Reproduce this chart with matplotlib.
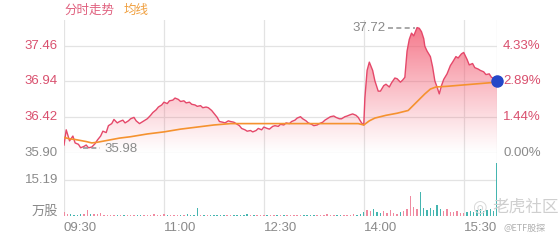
import numpy as np
import matplotlib.pyplot as plt

plt.rcParams['font.family'] = ['Liberation Sans', 'Noto Sans CJK SC', 'DejaVu Sans']

# minutes after 09:30 and last price
price_t = [0, 2, 5, 8, 10, 13, 15, 18, 20, 22, 25, 28, 30, 33, 35, 38, 40, 43, 45, 48,
           50, 53, 55, 58, 60, 63, 65, 68, 70, 73, 75, 78, 80, 83, 85, 88, 90, 93, 95, 98,
           100, 103, 105, 108, 110, 113, 115, 118, 120, 123, 125, 128, 130, 133, 135, 138, 140, 143, 145, 148,
           150, 153, 155, 158, 160, 163, 165, 168, 170, 173, 175, 178, 180, 183, 185, 188, 190, 193, 195, 198,
           200, 203, 205, 208, 210, 213, 215, 218, 220, 223, 225, 228, 230, 233, 235, 238, 240, 243, 245, 248,
           250, 253, 255, 258, 260, 263, 265, 268, 270, 271, 273, 275, 278, 280, 283, 285, 288, 290, 293, 295,
           298, 300, 303, 305, 307, 309, 311, 313, 315, 318, 320, 322, 324, 325, 327, 330, 332, 334, 336, 338,
           340, 342, 345, 348, 350, 353, 355, 358, 360, 363, 365, 368, 370, 373, 375, 378, 380, 383, 385, 388, 390]
price = [36.02, 36.24, 36.08, 36.15, 36.05, 36.03, 35.98, 36.00, 36.02, 35.98, 35.99, 36.04, 36.09, 36.15, 36.22, 36.20, 36.30, 36.33, 36.39, 36.34,
         36.36, 36.38, 36.34, 36.37, 36.40, 36.42, 36.37, 36.33, 36.35, 36.38, 36.40, 36.45, 36.49, 36.53, 36.57, 36.60, 36.64, 36.62, 36.66, 36.67,
         36.70, 36.68, 36.65, 36.66, 36.63, 36.64, 36.61, 36.60, 36.58, 36.59, 36.56, 36.57, 36.56, 36.52, 36.48, 36.42, 36.36, 36.35, 36.34, 36.37,
         36.36, 36.35, 36.33, 36.30, 36.26, 36.24, 36.22, 36.23, 36.21, 36.23, 36.26, 36.24, 36.28, 36.26, 36.25, 36.29, 36.30, 36.29, 36.32, 36.31,
         36.34, 36.33, 36.36, 36.38, 36.41, 36.43, 36.40, 36.37, 36.34, 36.32, 36.30, 36.31, 36.33, 36.35, 36.38, 36.41, 36.43, 36.44, 36.42, 36.40,
         36.40, 36.43, 36.44, 36.46, 36.47, 36.45, 36.42, 36.34, 36.31, 36.70, 37.10, 37.22, 37.10, 36.95, 36.80, 36.80, 36.88, 36.90, 36.86, 36.92,
         36.99, 36.98, 36.93, 36.96, 37.00, 37.38, 37.55, 37.64, 37.60, 37.72, 37.71, 37.66, 37.56, 37.45, 37.38, 37.30, 37.15, 36.95, 36.86, 36.76,
         36.88, 36.97, 37.05, 37.17, 37.22, 37.30, 37.28, 37.34, 37.36, 37.26, 37.18, 37.20, 37.14, 37.12, 37.10, 37.08, 37.04, 37.05, 37.00, 36.98, 36.95]

avg_t = [0, 5, 10, 20, 25, 30, 40, 50, 60, 75, 90, 105, 120, 135, 150, 180, 210, 240, 265,
         270, 275, 280, 290, 300, 310, 315, 320, 325, 330, 335, 345, 360, 375, 390]
avg = [36.13, 36.11, 36.10, 36.07, 36.05, 36.06, 36.09, 36.12, 36.14, 36.18, 36.21, 36.25, 36.28, 36.31, 36.33, 36.33, 36.33, 36.33, 36.33,
       36.31, 36.37, 36.41, 36.45, 36.48, 36.52, 36.60, 36.68, 36.76, 36.83, 36.86, 36.87, 36.89, 36.91, 36.93]

# volume (万股), one bar every 3 minutes
vol = [1.8, 0.9, 0.7, 0.5, 0.6, 0.8, 1.0, 2.4, 0.9, 0.7, 0.8, 1.1, 0.6, 0.5, 0.4, 0.5, 0.3, 0.4, 0.3, 0.5,
       0.4, 0.3, 0.5, 0.4, 0.6, 0.4, 0.5, 0.7, 0.5, 0.6, 0.8, 0.5, 0.4, 0.6, 0.5, 0.4, 0.5, 0.7, 0.4, 0.6,
       3.4, 0.5, 0.4, 0.6, 0.5, 0.4, 0.3, 0.5, 0.6, 0.4, 0.5, 0.3, 0.4, 0.6, 0.5, 0.7, 0.4, 0.5, 0.6, 0.4,
       0.5, 0.3, 0.4, 0.5, 0.4, 0.3, 0.5, 0.4, 0.6, 0.5, 0.4, 0.5, 0.3, 0.4, 0.5, 0.4, 0.6, 0.5, 0.4, 0.7,
       0.5, 0.4, 0.6, 0.5, 0.4, 0.6, 0.5, 0.7, 0.6, 0.8, 1.8, 2.6, 1.9, 2.8, 1.6, 1.2, 2.0, 1.4, 2.5, 1.3,
       1.0, 1.6, 2.2, 3.0, 8.4, 3.6, 2.8, 10.1, 3.2, 2.5, 3.4, 2.7, 4.6, 2.9, 2.2, 3.0, 1.8, 1.5, 2.0, 1.4,
       1.2, 1.6, 2.0, 1.5, 2.4, 2.8, 1.9, 2.6, 3.0, 2.2, 22.4]
vol_t = np.arange(0, 391, 3)

prev_close = 35.90
price_ticks = [35.90, 36.42, 36.94, 37.46]
pct_ticks = ['0.00%', '1.44%', '2.89%', '4.33%']
time_ticks = [0, 90, 180, 270, 360]
time_labels = ['09:30', '11:00', '12:30', '14:00', '15:30']
vol_tick = 15.19

RED = '#e5486a'
LABEL_RED = '#d9506e'
GRAY = '#8a8a8a'
GRID = '#e3e3e3'
CJK = ['Noto Sans CJK SC', 'DejaVu Sans']

fig = plt.figure(figsize=(5.6, 2.4), dpi=100)
L, R = 64, 497


def box(top, bottom):
    return [L / 560, 1 - bottom / 240, (R - L) / 560, (bottom - top) / 240]


ax_bg = fig.add_axes(box(20, 216))
ax = fig.add_axes(box(20, 153.3))
axv = fig.add_axes(box(162, 216))
for a in (ax_bg, ax, axv):
    a.set_xlim(0, 390)
    a.axis('off')
    a.patch.set_alpha(0)

for m in [0, 90, 180, 270, 360, 390]:
    ax_bg.axvline(m, color=GRID, lw=0.9, zorder=0)

ytop = 37.83
ax.set_ylim(prev_close, ytop)
for p in price_ticks:
    ax.axhline(p, color=GRID, lw=0.9, zorder=0)

# gradient fill under the price line
rgba = np.zeros((256, 1, 4))
rgba[..., 0], rgba[..., 1], rgba[..., 2] = 0.95, 0.33, 0.42
rgba[:, 0, 3] = np.linspace(0.85, 0.0, 256) ** 1.1
im = ax.imshow(rgba, extent=[0, 390, prev_close, ytop], aspect='auto', origin='upper', zorder=1)
poly = ax.fill_between(price_t, price, prev_close, color='none', lw=0)
im.set_clip_path(poly.get_paths()[0], ax.transData)

ax.plot(price_t, price, color=RED, lw=1.0, zorder=3)
ax.plot(avg_t, avg, color='#f5922f', lw=1.2, zorder=4)
ax.plot(price_t[-1], price[-1], 'o', color='#2447c8', ms=8, zorder=5, clip_on=False)

# max / min markers
imax = int(np.argmax(price))
imin = int(np.argmin(price))
ax.plot([price_t[imax] - 26, price_t[imax] - 2], [price[imax]] * 2, ls=(0, (3, 2)), color='#999999', lw=1.2, zorder=4)
ax.text(price_t[imax] - 28, price[imax], f'{price[imax]:.2f}', ha='right', va='center', color=GRAY, fontsize=9.5)
ax.plot([price_t[imin] + 2, price_t[imin] + 17], [price[imin]] * 2, ls=(0, (3, 2)), color='#999999', lw=1.2, zorder=4)
ax.text(price_t[imin] + 21, price[imin] - 0.02, f'{price[imin]:.2f}', ha='left', va='center', color=GRAY, fontsize=9.5)

# axis labels
for p, pct in zip(price_ticks, pct_ticks):
    c = GRAY if p == prev_close else LABEL_RED
    ax.annotate(f'{p:.2f}', xy=(0, p), xycoords=('axes fraction', 'data'), xytext=(-6, 0),
                textcoords='offset pixels', ha='right', va='center', color=c, fontsize=9.5)
    ax.annotate(pct, xy=(1, p), xycoords=('axes fraction', 'data'), xytext=(6, 0),
                textcoords='offset pixels', ha='left', va='center', color=c, fontsize=9.5)

# volume
vmax = vol_tick * 1.5
axv.set_ylim(0, vmax)
axv.axhline(vol_tick, color=GRID, lw=0.9, zorder=0)
interp_p = np.interp(vol_t, price_t, price)
colors = ['#f08aa0' if i == 0 or interp_p[i] >= interp_p[i - 1] else '#45b5b0' for i in range(len(vol))]
colors[-1] = '#45b5b0'
axv.bar(vol_t, vol, width=1.3, color=colors, zorder=2)
axv.annotate(f'{vol_tick:.2f}', xy=(0, vol_tick), xycoords=('axes fraction', 'data'), xytext=(-6, 0),
             textcoords='offset pixels', ha='right', va='center', color=GRAY, fontsize=9.5)
axv.annotate('万股', xy=(0, 0), xycoords='axes fraction', xytext=(-6, 5),
             textcoords='offset pixels', ha='right', va='center', color=GRAY, fontsize=9.5, family=CJK)
for m, lab in zip(time_ticks, time_labels):
    axv.annotate(lab, xy=(m, 0), xycoords=('data', 'axes fraction'), xytext=(0, -12),
                 textcoords='offset pixels', ha='left', va='center', color=GRAY, fontsize=9.5)

# header
fig.text(64 / 560, 1 - 10 / 240, '分时走势', color='#e0607e', fontsize=9, ha='left', va='center', family=CJK)
fig.text(124 / 560, 1 - 10 / 240, '均线', color='#f0a040', fontsize=9, ha='left', va='center', family=CJK)

# watermark
fig.text(472 / 560, 1 - 207 / 240, '◎', color='#d8d8d8', fontsize=12, ha='left', va='center',
         family=['DejaVu Sans'])
fig.text(492 / 560, 1 - 207 / 240, '老虎社区', color='#cfcfcf', fontsize=12, ha='left', va='center', family=CJK)
fig.text(503 / 560, 1 - 228 / 240, '@ETF股探', color='#b0b0b0', fontsize=6.5, ha='left', va='center', family=CJK)

fig.savefig('out.png', dpi=100)
